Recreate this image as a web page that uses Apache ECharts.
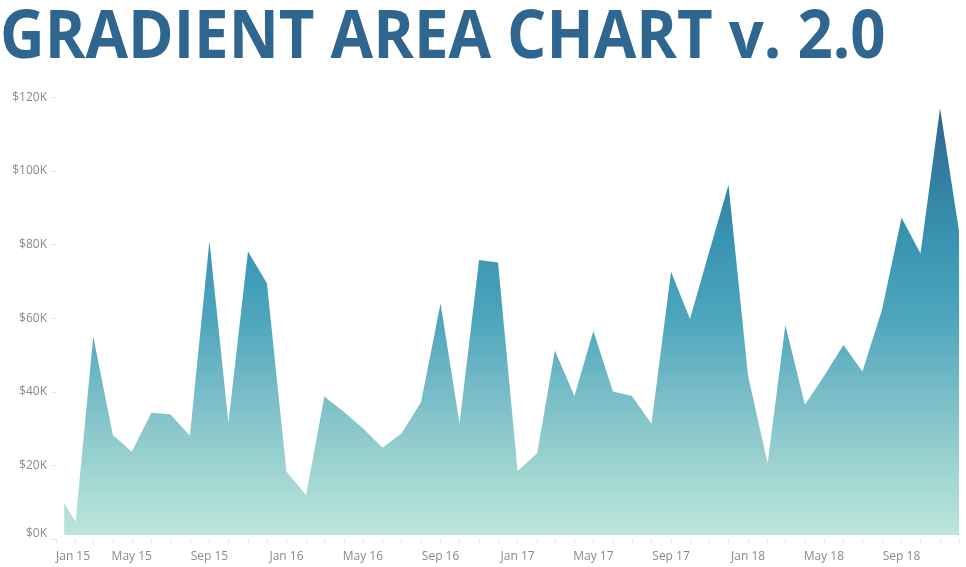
<!DOCTYPE html>
<html>
<head>
<meta charset="utf-8">
<script src="https://cdn.jsdelivr.net/npm/echarts@6/dist/echarts.min.js"></script>
<style>
html,body{margin:0;padding:0;background:#fff;}
#chart{width:966px;height:567px;}
</style>
</head>
<body>
<div id="chart"></div>
<script>
// ---- data ----
const dates = [
  '2015-01-14','2015-02-01','2015-03-01','2015-04-01','2015-05-01','2015-06-01','2015-07-01','2015-08-01','2015-09-01','2015-10-01','2015-11-01','2015-12-01',
  '2016-01-01','2016-02-01','2016-03-01','2016-04-01','2016-05-01','2016-06-01','2016-07-01','2016-08-01','2016-09-01','2016-10-01','2016-11-01','2016-12-01',
  '2017-01-01','2017-02-01','2017-03-01','2017-04-01','2017-05-01','2017-06-01','2017-07-01','2017-08-01','2017-09-01','2017-10-01','2017-11-01','2017-12-01',
  '2018-01-01','2018-02-01','2018-03-01','2018-04-01','2018-05-01','2018-06-01','2018-07-01','2018-08-01','2018-09-01','2018-10-01','2018-11-01','2018-12-01'
];
const sales = [
  9700, 4700, 55000, 28300, 23700, 34300, 33900, 28100, 81000, 31600, 78100, 69500,
  18300, 12000, 38700, 34500, 30100, 24800, 28700, 37200, 64000, 31400, 75800, 75100,
  18500, 23300, 51200, 38900, 56500, 40100, 38900, 31300, 72600, 59800, 78400, 96200,
  44300, 20600, 58100, 36500, 44200, 52700, 45500, 62200, 87300, 77600, 117000, 83700
];
const xLabelDates = ['2015-01-01','2015-05-01','2015-09-01','2016-01-01','2016-05-01','2016-09-01',
  '2017-01-01','2017-05-01','2017-09-01','2018-01-01','2018-05-01','2018-09-01'];
const yTicks = [0, 20000, 40000, 60000, 80000, 100000, 120000];
const monthNames = ['Jan','Feb','Mar','Apr','May','Jun','Jul','Aug','Sep','Oct','Nov','Dec'];
const titleText = 'GRADIENT AREA CHART v. 2.0';

// ---- build ----
const toTs = s => { const p = s.split('-').map(Number); return Date.UTC(p[0], p[1]-1, p[2]); };
const seriesData = dates.map((d, i) => [toTs(d), sales[i]]);
const monthTicks = [];
for (let y = 2015; y <= 2018; y++) for (let m = 0; m < 12; m++) monthTicks.push(Date.UTC(y, m, 1));

const chart = echarts.init(document.getElementById('chart'));
const gradient = new echarts.graphic.LinearGradient(0, 97, 0, 539, [
  {offset: 0.00, color: '#2c5e89'},
  {offset: 0.03, color: '#2e6790'},
  {offset: 0.20, color: '#3381a4'},
  {offset: 0.335, color: '#3b95b2'},
  {offset: 0.505, color: '#4ea6bd'},
  {offset: 0.667, color: '#77bcc7'},
  {offset: 0.835, color: '#9cd3d0'},
  {offset: 1.00, color: '#bee7db'}
], true);

chart.setOption({
  animation: false,
  backgroundColor: '#ffffff',
  graphic: [{
    type: 'text',
    left: 0,
    top: 6,
    scaleX: 0.935,
    style: {
      text: titleText,
      font: 'bold 66px "Open Sans"',
      fill: '#2f6690'
    }
  }],
  grid: {left: 56, right: 7, top: 97.3, bottom: 27.9},
  xAxis: {
    type: 'value',
    min: toTs('2015-01-01'),
    max: toTs('2018-12-01'),
    axisLine: {show: false},
    splitLine: {show: false},
    axisTick: {show: true, length: 4, customValues: monthTicks, lineStyle: {color: '#e2e2e2'}},
    axisLabel: {
      customValues: xLabelDates.map(toTs),
      alignMinLabel: 'left',
      margin: 11,
      color: '#8a8a8a',
      fontSize: 12,
      fontFamily: 'Open Sans',
      formatter: v => { const d = new Date(v); return monthNames[d.getUTCMonth()] + ' ' + String(d.getUTCFullYear()).slice(2); }
    }
  },
  yAxis: {
    type: 'value',
    min: yTicks[0],
    max: yTicks[yTicks.length-1],
    interval: 20000,
    axisLine: {show: false},
    splitLine: {show: false},
    axisTick: {show: true, length: 4, lineStyle: {color: '#e2e2e2'}},
    axisLabel: {
      margin: 9,
      color: '#8a8a8a',
      fontSize: 12,
      fontFamily: 'Open Sans',
      verticalAlignMinLabel: 'bottom',
      formatter: v => '$' + (v/1000) + 'K'
    }
  },
  series: [{
    type: 'line',
    data: seriesData,
    showSymbol: false,
    smooth: false,
    lineStyle: {width: 0},
    areaStyle: {color: gradient, opacity: 1, origin: 1100}
  }]
});
</script>
</body>
</html>
